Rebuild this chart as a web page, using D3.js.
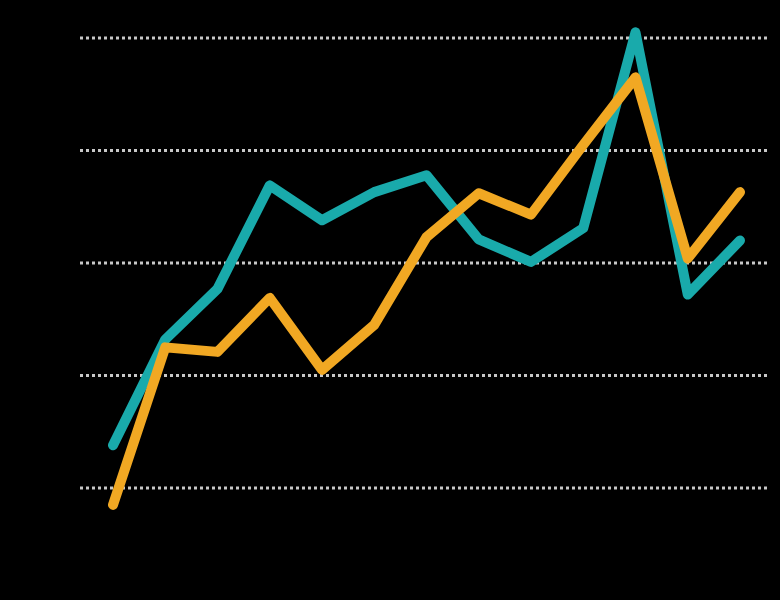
<!DOCTYPE html>
<html>
<head>
<meta charset="utf-8">
<script src="https://cdn.jsdelivr.net/npm/d3@7"></script>
<style>
  html, body { margin: 0; padding: 0; background: #000; }
  svg { display: block; }
</style>
</head>
<body>
<script>

// data
var periods = ['P1', 'P2', 'P3', 'P4', 'P5', 'P6', 'P7', 'P8', 'P9', 'P10', 'P11', 'P12', 'P13'];
var tealSeries = [13.8, 23.2, 27.7, 36.9, 33.8, 36.3, 37.8, 32.1, 30.1, 33.1, 50.5, 27.2, 32.0];
var orangeSeries = [8.5, 22.5, 22.1, 26.9, 20.5, 24.5, 32.3, 36.2, 34.3, 40.5, 46.5, 30.4, 36.3];
var gridTicks = [10, 20, 30, 40, 50];

var svg = d3.select('body').append('svg')
    .attr('width', 780)
    .attr('height', 600);

var x = d3.scalePoint()
    .domain(periods)
    .range([113, 740]);

var y = d3.scaleLinear()
    .domain([10, 50])
    .range([488, 38]);

// dotted grid lines
svg.append('g')
    .selectAll('line')
    .data(gridTicks)
    .enter().append('line')
    .attr('x1', 80)
    .attr('x2', 770)
    .attr('y1', d => y(d))
    .attr('y2', d => y(d))
    .attr('stroke', '#c8c8c8')
    .attr('stroke-width', 3)
    .attr('stroke-dasharray', '3,3');

var line = d3.line()
    .x((d, i) => x(periods[i]))
    .y(d => y(d));

function drawLine(values, colour) {
    svg.append('path')
        .datum(values)
        .attr('d', line)
        .attr('fill', 'none')
        .attr('stroke', colour)
        .attr('stroke-width', 10)
        .attr('stroke-linejoin', 'round')
        .attr('stroke-linecap', 'round');
}

drawLine(tealSeries, '#19aaab');
drawLine(orangeSeries, '#f1a823');

</script>
</body>
</html>
